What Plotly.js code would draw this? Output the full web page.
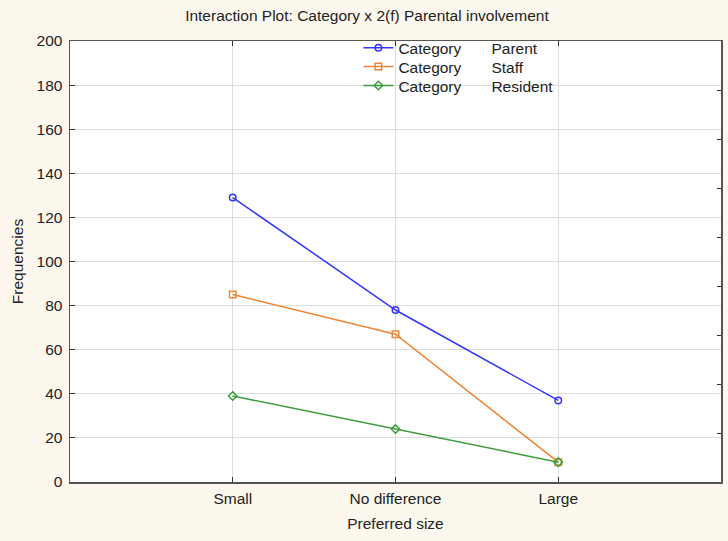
<!DOCTYPE html>
<html>
<head>
<meta charset="utf-8">
<script src="https://cdn.plot.ly/plotly-3.0.1.min.js"></script>
<style>
  html, body { margin: 0; padding: 0; background: #fdf8ee; }
  #chart { width: 728px; height: 541px; }
</style>
</head>
<body>
<div id="chart"></div>
<script>
// categories on the x axis
const sizes = ["Small", "No difference", "Large"];

// frequencies per respondent category
const parent = [129, 78, 37];
const staff = [85, 67, 9];
const resident = [39, 24, 9];

const groupLabel = "Category";
const levels = ["Parent", "Staff", "Resident"];

const yTicks = [0, 20, 40, 60, 80, 100, 120, 140, 160, 180, 200];

const FS = 15.5;
const pad = "\u00a0".repeat(7);
const legendName = (lvl) => groupLabel + pad + lvl;

const makeTrace = (values, lvl, color, symbol, legendId) => ({
  name: legendName(lvl),
  legend: legendId,
  x: [0, 1, 2],
  y: values,
  mode: "lines+markers",
  type: "scatter",
  line: { color: color, width: 1.5 },
  marker: { color: color, symbol: symbol, size: 6.5, line: { color: color, width: 1.5 } },
});

const data = [
  makeTrace(parent, levels[0], "#3434ff", "circle-open", "legend"),
  makeTrace(staff, levels[1], "#ef8535", "square-open", "legend2"),
  makeTrace(resident, levels[2], "#3a9d3a", "diamond-open", "legend3"),
  // empty trace on the right axis to get its ticks drawn
  { x: [0], y: [null], yaxis: "y2", showlegend: false, hoverinfo: "skip", type: "scatter" },
];

// one legend box per entry so the rows sit tight like the original
const legendBox = (yPos) => ({
  x: 0.443, xanchor: "left",
  y: yPos, yanchor: "middle",
  bgcolor: "rgba(0,0,0,0)",
  font: { size: FS, color: "#222" },
  itemwidth: 30,
});

const layout = {
  width: 728,
  height: 541,
  paper_bgcolor: "#fdf8ee",
  plot_bgcolor: "#ffffff",
  margin: { l: 70, r: 7, t: 41, b: 59 },
  font: { family: "Liberation Sans, Arial, sans-serif", size: FS, color: "#222" },
  title: {
    text: "Interaction Plot: Category x 2(f) Parental involvement",
    font: { size: FS, color: "#222" },
    x: 0.504, xanchor: "center",
    y: 0.972, yanchor: "middle",
  },
  xaxis: {
    range: [-1, 3],
    tickvals: [0, 1, 2],
    ticktext: sizes,
    showgrid: true,
    gridcolor: "#dcdcdc",
    zeroline: false,
    showline: true,
    linecolor: "#555",
    linewidth: 1.5,
    mirror: "ticks",
    ticks: "inside",
    ticklen: 5,
    tickcolor: "#333",
    ticklabelstandoff: 2,
    tickfont: { size: FS, color: "#222" },
    title: { text: "Preferred size", font: { size: FS, color: "#222" }, standoff: 12 },
  },
  yaxis: {
    range: [0, 200],
    tickvals: yTicks,
    showgrid: true,
    gridcolor: "#dcdcdc",
    zeroline: false,
    showline: true,
    linecolor: "#555",
    linewidth: 1.5,
    mirror: true,
    ticks: "inside",
    ticklen: 5,
    tickcolor: "#333",
    ticklabelstandoff: 3,
    tickfont: { size: FS, color: "#222" },
    title: { text: "Frequencies", font: { size: FS, color: "#222" }, standoff: 9 },
  },
  yaxis2: {
    overlaying: "y",
    side: "right",
    range: [0, 200],
    tick0: 0,
    dtick: 200 / 9,
    showticklabels: false,
    showgrid: false,
    zeroline: false,
    showline: false,
    ticks: "inside",
    ticklen: 4,
    tickcolor: "#333",
  },
  legend: legendBox(0.984),
  legend2: legendBox(0.941),
  legend3: legendBox(0.898),
  showlegend: true,
};

Plotly.newPlot("chart", data, layout, { staticPlot: true });
</script>
</body>
</html>
